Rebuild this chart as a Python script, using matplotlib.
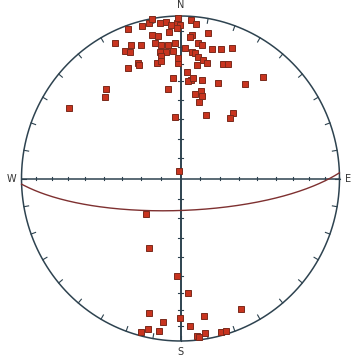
import numpy as np
import matplotlib
matplotlib.use("Agg")
from matplotlib import pyplot as plt

# poles, equal-area net coordinates (east, north)
pole_e = [-0.24, -0.20, -0.18, -0.13, -0.09, -0.06, -0.02, -0.33, -0.18, -0.14,
          -0.07, -0.41, -0.31, -0.25, -0.35, -0.32, -0.16, -0.12, -0.08, -0.035,
          -0.13, -0.09, -0.045, -0.125, -0.265, -0.15, -0.12, -0.014, -0.014, -0.003,
          0.066, 0.10, -0.024, 0.07, 0.06, 0.175, 0.112, 0.133, 0.196, 0.255,
          0.326, 0.028, 0.07, 0.091, 0.112, 0.143, 0.165, 0.269, 0.301, 0.102,
          -0.018, 0.039, 0.066, 0.049, 0.081, 0.137, 0.234, 0.406, 0.521, 0.091,
          0.129, 0.137, 0.116, 0.16, 0.332, 0.311, -0.035, -0.328, -0.259, -0.045,
          -0.469, -0.472, -0.077, -0.699,
          -0.009, -0.217, -0.198, -0.02, 0.049, -0.196, -0.003, -0.108, 0.148, 0.381,
          0.06, -0.203, -0.25, -0.133, 0.102, 0.116, 0.154, 0.253, 0.286]
pole_n = [0.94, 0.955, 0.98, 0.955, 0.965, 0.945, 0.957, 0.918, 0.883, 0.877,
          0.903, 0.832, 0.822, 0.822, 0.786, 0.78, 0.832, 0.822, 0.822, 0.832,
          0.78, 0.78, 0.786, 0.754, 0.713, 0.709, 0.725, 0.709, 0.986, 0.945,
          0.975, 0.951, 0.926, 0.883, 0.869, 0.894, 0.832, 0.822, 0.797, 0.795,
          0.801, 0.801, 0.78, 0.77, 0.75, 0.729, 0.709, 0.705, 0.705, 0.698,
          0.742, 0.657, 0.606, 0.60, 0.617, 0.606, 0.59, 0.582, 0.623, 0.52,
          0.538, 0.51, 0.469, 0.391, 0.401, 0.374, 0.378, 0.682, 0.698, 0.617,
          0.551, 0.502, 0.549, 0.436,
          0.049, -0.218, -0.43, -0.60, -0.703, -0.83, -0.86, -0.881, -0.844, -0.805,
          -0.906, -0.928, -0.943, -0.937, -0.969, -0.977, -0.953, -0.946, -0.937]

plane_strike = 88
plane_dip = 74

LINE = "#2e4350"
GC = "#7e3030"


def eq_area(trend, plunge):
    r = np.sqrt(2) * np.sin(np.radians(90 - plunge) / 2)
    return r * np.sin(np.radians(trend)), r * np.cos(np.radians(trend))


fig = plt.figure(figsize=(3.52, 3.58), dpi=100)
ax = fig.add_axes([21.5 / 352, 17 / 358, 318 / 352, 325 / 358])
ax.set_xlim(-1, 1)
ax.set_ylim(-1, 1)
ax.axis("off")

# primitive circle
t = np.linspace(0, 2 * np.pi, 400)
ax.plot(np.cos(t), np.sin(t), color=LINE, lw=1.1, clip_on=False)

# ticks on the circle every 10 deg, pointing inward
for az in range(0, 360, 10):
    a = np.radians(az)
    ax.plot([np.sin(a), 0.97 * np.sin(a)], [np.cos(a), 0.97 * np.cos(a)],
            color=LINE, lw=0.8, clip_on=False)

# E-W and N-S axes with ticks every 10 deg
ax.plot([-1, 1], [0, 0], color=LINE, lw=1.1)
ax.plot([0, 0], [-1, 1], color=LINE, lw=1.4)
for ang in range(10, 90, 10):
    r = np.sqrt(2) * np.sin(np.radians(ang) / 2)
    for s in (-1, 1):
        ax.plot([s * r, s * r], [-0.012, 0.012], color=LINE, lw=0.8)
        ax.plot([-0.014, 0.014], [s * r, s * r], color=LINE, lw=0.8)

# great circle of the plane
sv = np.array([np.sin(np.radians(plane_strike)), np.cos(np.radians(plane_strike)), 0])
dd = np.radians(plane_strike + 90)
dp = np.radians(plane_dip)
dv = np.array([np.sin(dd) * np.cos(dp), np.cos(dd) * np.cos(dp), np.sin(dp)])
tt = np.linspace(0, np.pi, 200)
vec = np.outer(np.cos(tt), sv) + np.outer(np.sin(tt), dv)
trend = np.degrees(np.arctan2(vec[:, 0], vec[:, 1]))
plunge = np.degrees(np.arcsin(np.clip(vec[:, 2], -1, 1)))
gx, gy = eq_area(trend, plunge)
ax.plot(gx, gy, color=GC, lw=1.0, clip_on=False)

# poles
ax.plot(pole_e, pole_n, ls="none", marker="s", ms=4.2, mfc="#c8341f",
        mec="#7a2a1c", mew=0.7, clip_on=False)

lab = dict(fontsize=7, color="#333333", ha="center", va="center")
ax.text(0, 1.065, "N", **lab)
ax.text(0, -1.07, "S", **lab)
ax.text(-1.066, 0, "W", **lab)
ax.text(1.055, 0, "E", **lab)

fig.savefig("out.png", dpi=100)
